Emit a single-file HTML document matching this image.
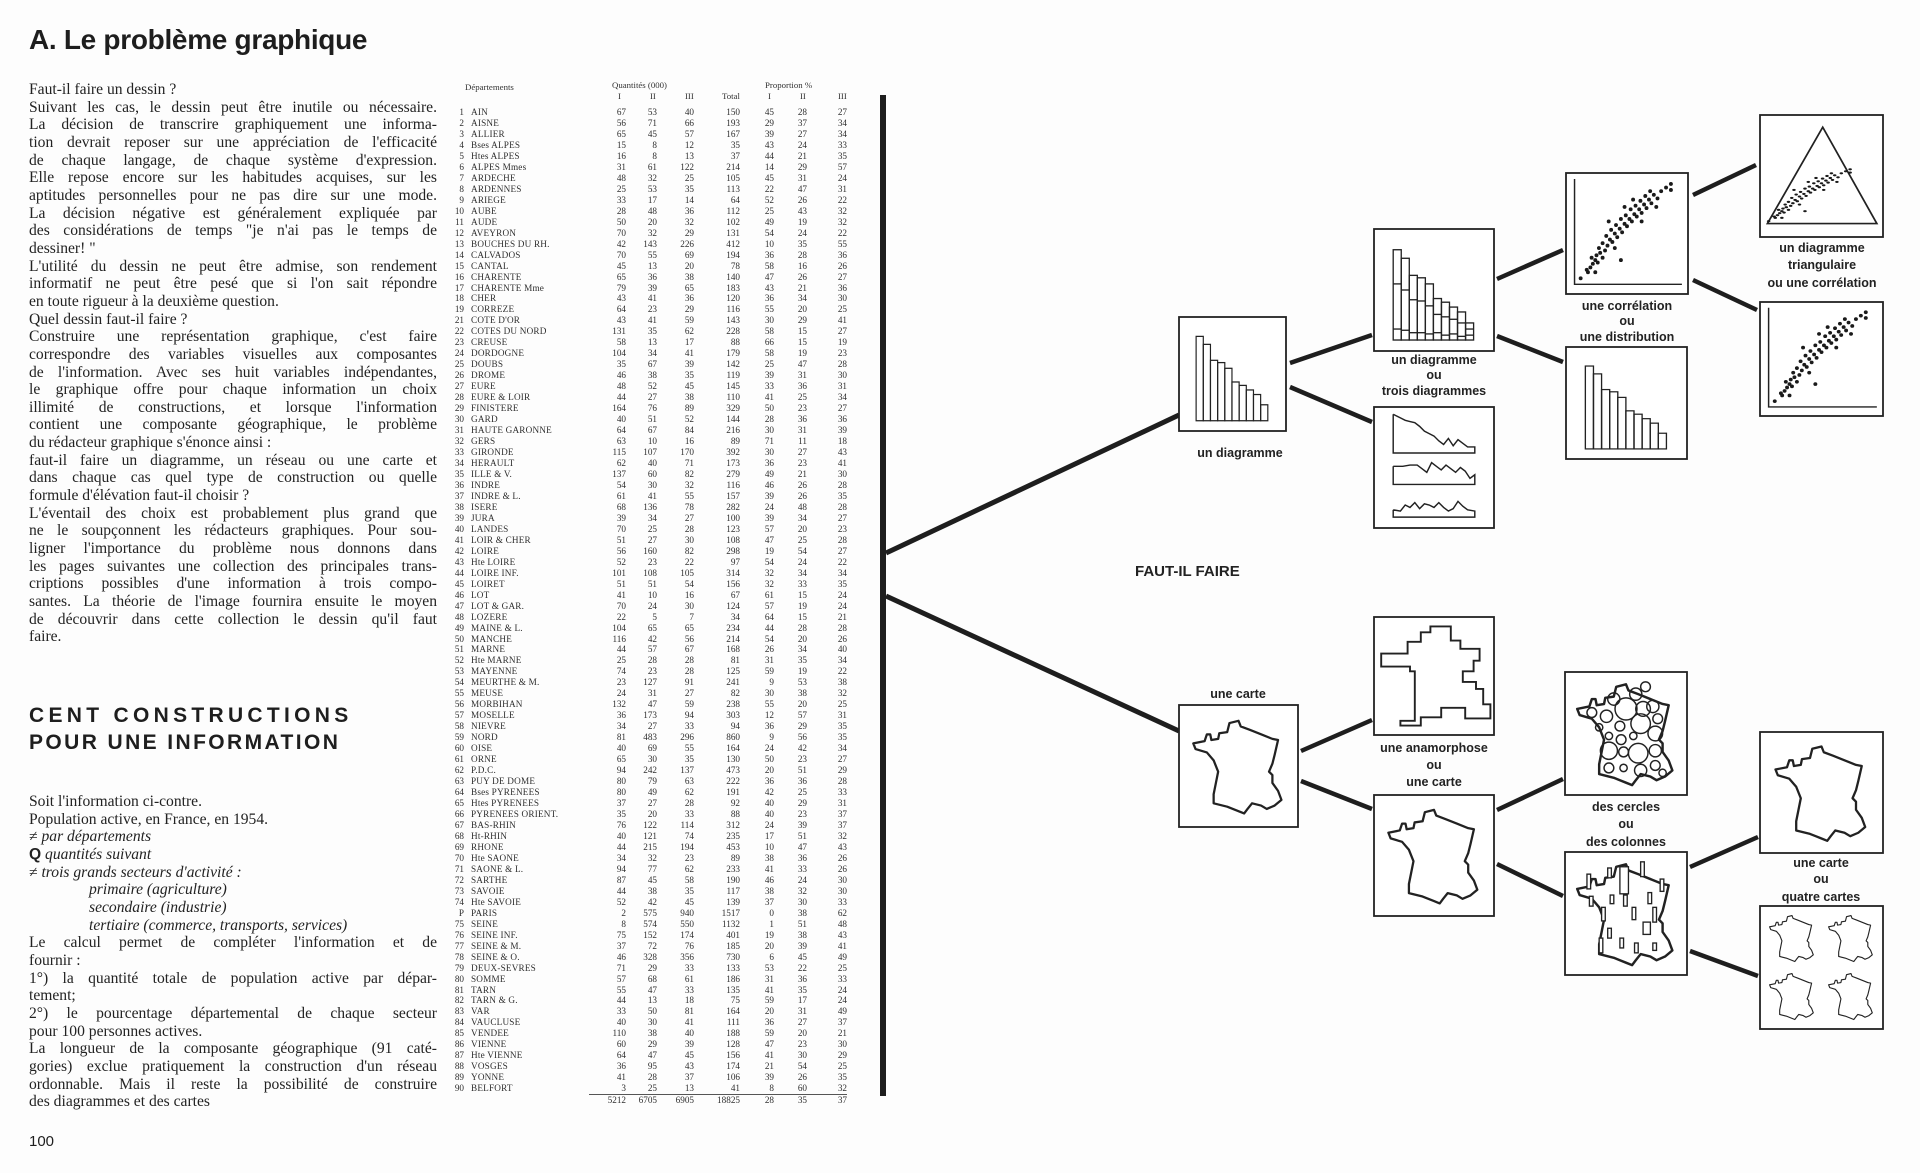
<!DOCTYPE html>
<html><head><meta charset="utf-8">
<style>
html,body{margin:0;padding:0;background:#fdfdfd;}
body{width:1920px;height:1173px;position:relative;overflow:hidden;color:#1e1e1e;}
.title{position:absolute;left:29px;top:24px;font:bold 28px "Liberation Sans",sans-serif;letter-spacing:-0.3px;}
.txt{position:absolute;left:29px;width:408px;font:15.6px "Liberation Serif",serif;line-height:17.66px;color:#222;}
.txt div{white-space:nowrap;text-align:justify;text-align-last:justify;height:17.66px;}
.txt div.e{text-align-last:left;}
.txt i{font-style:italic;}
.h2{position:absolute;left:29px;top:702px;font:bold 21px "Liberation Sans",sans-serif;line-height:27px;}
.h2 div{white-space:nowrap;}
.pg{position:absolute;left:29px;top:1133px;font:15px "Liberation Sans",sans-serif;}
table.t{position:absolute;left:446px;top:107px;border-collapse:collapse;table-layout:fixed;font:9.2px "Liberation Serif",serif;color:#2e2e2e;}
table.t td{padding:0;height:10.97px;line-height:10.97px;text-align:right;white-space:nowrap;overflow:hidden;}
table.t td.n{text-align:left;padding-left:7px;letter-spacing:0.2px;}
.hd{position:absolute;font:8.8px "Liberation Serif",serif;color:#333;white-space:nowrap;}
svg.d{position:absolute;left:0;top:0;}
.lb{font:bold 12.5px "Liberation Sans",sans-serif;fill:#222;text-anchor:middle;}
</style></head><body>
<div class="title">A. Le problème graphique</div>
<div class="txt" style="top:81px">
<div class="e">Faut-il faire un dessin ?</div>
<div>Suivant les cas, le dessin peut être inutile ou nécessaire.</div>
<div>La décision de transcrire graphiquement une informa-</div>
<div>tion devrait reposer sur une appréciation de l'efficacité</div>
<div>de chaque langage, de chaque système d'expression.</div>
<div>Elle repose encore sur les habitudes acquises, sur les</div>
<div>aptitudes personnelles pour ne pas dire sur une mode.</div>
<div>La décision négative est généralement expliquée par</div>
<div>des considérations de temps "je n'ai pas le temps de</div>
<div class="e">dessiner! "</div>
<div>L'utilité du dessin ne peut être admise, son rendement</div>
<div>informatif ne peut être pesé que si l'on sait répondre</div>
<div class="e">en toute rigueur à la deuxième question.</div>
<div class="e">Quel dessin faut-il faire ?</div>
<div>Construire une représentation graphique, c'est faire</div>
<div>correspondre des variables visuelles aux composantes</div>
<div>de l'information. Avec ses huit variables indépendantes,</div>
<div>le graphique offre pour chaque information un choix</div>
<div>illimité de constructions, et lorsque l'information</div>
<div>contient une composante géographique, le problème</div>
<div class="e">du rédacteur graphique s'énonce ainsi :</div>
<div>faut-il faire un diagramme, un réseau ou une carte et</div>
<div>dans chaque cas quel type de construction ou quelle</div>
<div class="e">formule d'élévation faut-il choisir ?</div>
<div>L'éventail des choix est probablement plus grand que</div>
<div>ne le soupçonnent les rédacteurs graphiques. Pour sou-</div>
<div>ligner l'importance du problème nous donnons dans</div>
<div>les pages suivantes une collection des principales trans-</div>
<div>criptions possibles d'une information à trois compo-</div>
<div>santes. La théorie de l'image fournira ensuite le moyen</div>
<div>de découvrir dans cette collection le dessin qu'il faut</div>
<div class="e">faire.</div>
</div>
<div class="h2"><div style="letter-spacing:4.3px">CENT CONSTRUCTIONS</div><div style="letter-spacing:2.4px">POUR UNE INFORMATION</div></div>
<div class="txt" style="top:793px">
<div class="e">Soit l'information ci-contre.</div>
<div class="e">Population active, en France, en 1954.</div>
<div class="e">≠ <i>par départements</i></div>
<div class="e"><b style="font-family:'Liberation Sans'">Q</b> <i>quantités suivant</i></div>
<div class="e">≠ <i>trois grands secteurs d'activité :</i></div>
<div class="e" style="padding-left:60px"><i>primaire (agriculture)</i></div>
<div class="e" style="padding-left:60px"><i>secondaire (industrie)</i></div>
<div class="e" style="padding-left:60px"><i>tertiaire (commerce, transports, services)</i></div>
<div>Le calcul permet de compléter l'information et de</div>
<div class="e">fournir :</div>
<div>1°) la quantité totale de population active par dépar-</div>
<div class="e">tement;</div>
<div>2°) le pourcentage départemental de chaque secteur</div>
<div class="e">pour 100 personnes actives.</div>
<div>La longueur de la composante géographique (91 caté-</div>
<div>gories) exclue pratiquement la construction d'un réseau</div>
<div>ordonnable. Mais il reste la possibilité de construire</div>
<div class="e">des diagrammes et des cartes</div>
</div>
<div class="pg">100</div>

<div class="hd" style="left:465px;top:82px">Départements</div>
<div class="hd" style="left:612px;top:80px">Quantités (000)</div>
<div class="hd" style="left:765px;top:80px">Proportion %</div>
<div class="hd" style="left:618px;top:91px">I</div>
<div class="hd" style="left:650px;top:91px">II</div>
<div class="hd" style="left:685px;top:91px">III</div>
<div class="hd" style="left:722px;top:91px">Total</div>
<div class="hd" style="left:768px;top:91px">I</div>
<div class="hd" style="left:800px;top:91px">II</div>
<div class="hd" style="left:838px;top:91px">III</div>

<table class="t">
<colgroup><col style="width:18px"><col style="width:125px"><col style="width:37px"><col style="width:31px"><col style="width:37px"><col style="width:46px"><col style="width:34px"><col style="width:33px"><col style="width:40px"></colgroup>
<tr><td>1</td><td class="n">AIN</td><td>67</td><td>53</td><td>40</td><td>150</td><td>45</td><td>28</td><td>27</td></tr>
<tr><td>2</td><td class="n">AISNE</td><td>56</td><td>71</td><td>66</td><td>193</td><td>29</td><td>37</td><td>34</td></tr>
<tr><td>3</td><td class="n">ALLIER</td><td>65</td><td>45</td><td>57</td><td>167</td><td>39</td><td>27</td><td>34</td></tr>
<tr><td>4</td><td class="n">Bses ALPES</td><td>15</td><td>8</td><td>12</td><td>35</td><td>43</td><td>24</td><td>33</td></tr>
<tr><td>5</td><td class="n">Htes ALPES</td><td>16</td><td>8</td><td>13</td><td>37</td><td>44</td><td>21</td><td>35</td></tr>
<tr><td>6</td><td class="n">ALPES Mmes</td><td>31</td><td>61</td><td>122</td><td>214</td><td>14</td><td>29</td><td>57</td></tr>
<tr><td>7</td><td class="n">ARDECHE</td><td>48</td><td>32</td><td>25</td><td>105</td><td>45</td><td>31</td><td>24</td></tr>
<tr><td>8</td><td class="n">ARDENNES</td><td>25</td><td>53</td><td>35</td><td>113</td><td>22</td><td>47</td><td>31</td></tr>
<tr><td>9</td><td class="n">ARIEGE</td><td>33</td><td>17</td><td>14</td><td>64</td><td>52</td><td>26</td><td>22</td></tr>
<tr><td>10</td><td class="n">AUBE</td><td>28</td><td>48</td><td>36</td><td>112</td><td>25</td><td>43</td><td>32</td></tr>
<tr><td>11</td><td class="n">AUDE</td><td>50</td><td>20</td><td>32</td><td>102</td><td>49</td><td>19</td><td>32</td></tr>
<tr><td>12</td><td class="n">AVEYRON</td><td>70</td><td>32</td><td>29</td><td>131</td><td>54</td><td>24</td><td>22</td></tr>
<tr><td>13</td><td class="n">BOUCHES DU RH.</td><td>42</td><td>143</td><td>226</td><td>412</td><td>10</td><td>35</td><td>55</td></tr>
<tr><td>14</td><td class="n">CALVADOS</td><td>70</td><td>55</td><td>69</td><td>194</td><td>36</td><td>28</td><td>36</td></tr>
<tr><td>15</td><td class="n">CANTAL</td><td>45</td><td>13</td><td>20</td><td>78</td><td>58</td><td>16</td><td>26</td></tr>
<tr><td>16</td><td class="n">CHARENTE</td><td>65</td><td>36</td><td>38</td><td>140</td><td>47</td><td>26</td><td>27</td></tr>
<tr><td>17</td><td class="n">CHARENTE Mme</td><td>79</td><td>39</td><td>65</td><td>183</td><td>43</td><td>21</td><td>36</td></tr>
<tr><td>18</td><td class="n">CHER</td><td>43</td><td>41</td><td>36</td><td>120</td><td>36</td><td>34</td><td>30</td></tr>
<tr><td>19</td><td class="n">CORREZE</td><td>64</td><td>23</td><td>29</td><td>116</td><td>55</td><td>20</td><td>25</td></tr>
<tr><td>21</td><td class="n">COTE D'OR</td><td>43</td><td>41</td><td>59</td><td>143</td><td>30</td><td>29</td><td>41</td></tr>
<tr><td>22</td><td class="n">COTES DU NORD</td><td>131</td><td>35</td><td>62</td><td>228</td><td>58</td><td>15</td><td>27</td></tr>
<tr><td>23</td><td class="n">CREUSE</td><td>58</td><td>13</td><td>17</td><td>88</td><td>66</td><td>15</td><td>19</td></tr>
<tr><td>24</td><td class="n">DORDOGNE</td><td>104</td><td>34</td><td>41</td><td>179</td><td>58</td><td>19</td><td>23</td></tr>
<tr><td>25</td><td class="n">DOUBS</td><td>35</td><td>67</td><td>39</td><td>142</td><td>25</td><td>47</td><td>28</td></tr>
<tr><td>26</td><td class="n">DROME</td><td>46</td><td>38</td><td>35</td><td>119</td><td>39</td><td>31</td><td>30</td></tr>
<tr><td>27</td><td class="n">EURE</td><td>48</td><td>52</td><td>45</td><td>145</td><td>33</td><td>36</td><td>31</td></tr>
<tr><td>28</td><td class="n">EURE &amp; LOIR</td><td>44</td><td>27</td><td>38</td><td>110</td><td>41</td><td>25</td><td>34</td></tr>
<tr><td>29</td><td class="n">FINISTERE</td><td>164</td><td>76</td><td>89</td><td>329</td><td>50</td><td>23</td><td>27</td></tr>
<tr><td>30</td><td class="n">GARD</td><td>40</td><td>51</td><td>52</td><td>144</td><td>28</td><td>36</td><td>36</td></tr>
<tr><td>31</td><td class="n">HAUTE GARONNE</td><td>64</td><td>67</td><td>84</td><td>216</td><td>30</td><td>31</td><td>39</td></tr>
<tr><td>32</td><td class="n">GERS</td><td>63</td><td>10</td><td>16</td><td>89</td><td>71</td><td>11</td><td>18</td></tr>
<tr><td>33</td><td class="n">GIRONDE</td><td>115</td><td>107</td><td>170</td><td>392</td><td>30</td><td>27</td><td>43</td></tr>
<tr><td>34</td><td class="n">HERAULT</td><td>62</td><td>40</td><td>71</td><td>173</td><td>36</td><td>23</td><td>41</td></tr>
<tr><td>35</td><td class="n">ILLE &amp; V.</td><td>137</td><td>60</td><td>82</td><td>279</td><td>49</td><td>21</td><td>30</td></tr>
<tr><td>36</td><td class="n">INDRE</td><td>54</td><td>30</td><td>32</td><td>116</td><td>46</td><td>26</td><td>28</td></tr>
<tr><td>37</td><td class="n">INDRE &amp; L.</td><td>61</td><td>41</td><td>55</td><td>157</td><td>39</td><td>26</td><td>35</td></tr>
<tr><td>38</td><td class="n">ISERE</td><td>68</td><td>136</td><td>78</td><td>282</td><td>24</td><td>48</td><td>28</td></tr>
<tr><td>39</td><td class="n">JURA</td><td>39</td><td>34</td><td>27</td><td>100</td><td>39</td><td>34</td><td>27</td></tr>
<tr><td>40</td><td class="n">LANDES</td><td>70</td><td>25</td><td>28</td><td>123</td><td>57</td><td>20</td><td>23</td></tr>
<tr><td>41</td><td class="n">LOIR &amp; CHER</td><td>51</td><td>27</td><td>30</td><td>108</td><td>47</td><td>25</td><td>28</td></tr>
<tr><td>42</td><td class="n">LOIRE</td><td>56</td><td>160</td><td>82</td><td>298</td><td>19</td><td>54</td><td>27</td></tr>
<tr><td>43</td><td class="n">Hte LOIRE</td><td>52</td><td>23</td><td>22</td><td>97</td><td>54</td><td>24</td><td>22</td></tr>
<tr><td>44</td><td class="n">LOIRE INF.</td><td>101</td><td>108</td><td>105</td><td>314</td><td>32</td><td>34</td><td>34</td></tr>
<tr><td>45</td><td class="n">LOIRET</td><td>51</td><td>51</td><td>54</td><td>156</td><td>32</td><td>33</td><td>35</td></tr>
<tr><td>46</td><td class="n">LOT</td><td>41</td><td>10</td><td>16</td><td>67</td><td>61</td><td>15</td><td>24</td></tr>
<tr><td>47</td><td class="n">LOT &amp; GAR.</td><td>70</td><td>24</td><td>30</td><td>124</td><td>57</td><td>19</td><td>24</td></tr>
<tr><td>48</td><td class="n">LOZERE</td><td>22</td><td>5</td><td>7</td><td>34</td><td>64</td><td>15</td><td>21</td></tr>
<tr><td>49</td><td class="n">MAINE &amp; L.</td><td>104</td><td>65</td><td>65</td><td>234</td><td>44</td><td>28</td><td>28</td></tr>
<tr><td>50</td><td class="n">MANCHE</td><td>116</td><td>42</td><td>56</td><td>214</td><td>54</td><td>20</td><td>26</td></tr>
<tr><td>51</td><td class="n">MARNE</td><td>44</td><td>57</td><td>67</td><td>168</td><td>26</td><td>34</td><td>40</td></tr>
<tr><td>52</td><td class="n">Hte MARNE</td><td>25</td><td>28</td><td>28</td><td>81</td><td>31</td><td>35</td><td>34</td></tr>
<tr><td>53</td><td class="n">MAYENNE</td><td>74</td><td>23</td><td>28</td><td>125</td><td>59</td><td>19</td><td>22</td></tr>
<tr><td>54</td><td class="n">MEURTHE &amp; M.</td><td>23</td><td>127</td><td>91</td><td>241</td><td>9</td><td>53</td><td>38</td></tr>
<tr><td>55</td><td class="n">MEUSE</td><td>24</td><td>31</td><td>27</td><td>82</td><td>30</td><td>38</td><td>32</td></tr>
<tr><td>56</td><td class="n">MORBIHAN</td><td>132</td><td>47</td><td>59</td><td>238</td><td>55</td><td>20</td><td>25</td></tr>
<tr><td>57</td><td class="n">MOSELLE</td><td>36</td><td>173</td><td>94</td><td>303</td><td>12</td><td>57</td><td>31</td></tr>
<tr><td>58</td><td class="n">NIEVRE</td><td>34</td><td>27</td><td>33</td><td>94</td><td>36</td><td>29</td><td>35</td></tr>
<tr><td>59</td><td class="n">NORD</td><td>81</td><td>483</td><td>296</td><td>860</td><td>9</td><td>56</td><td>35</td></tr>
<tr><td>60</td><td class="n">OISE</td><td>40</td><td>69</td><td>55</td><td>164</td><td>24</td><td>42</td><td>34</td></tr>
<tr><td>61</td><td class="n">ORNE</td><td>65</td><td>30</td><td>35</td><td>130</td><td>50</td><td>23</td><td>27</td></tr>
<tr><td>62</td><td class="n">P.D.C.</td><td>94</td><td>242</td><td>137</td><td>473</td><td>20</td><td>51</td><td>29</td></tr>
<tr><td>63</td><td class="n">PUY DE DOME</td><td>80</td><td>79</td><td>63</td><td>222</td><td>36</td><td>36</td><td>28</td></tr>
<tr><td>64</td><td class="n">Bses PYRENEES</td><td>80</td><td>49</td><td>62</td><td>191</td><td>42</td><td>25</td><td>33</td></tr>
<tr><td>65</td><td class="n">Htes PYRENEES</td><td>37</td><td>27</td><td>28</td><td>92</td><td>40</td><td>29</td><td>31</td></tr>
<tr><td>66</td><td class="n">PYRENEES ORIENT.</td><td>35</td><td>20</td><td>33</td><td>88</td><td>40</td><td>23</td><td>37</td></tr>
<tr><td>67</td><td class="n">BAS-RHIN</td><td>76</td><td>122</td><td>114</td><td>312</td><td>24</td><td>39</td><td>37</td></tr>
<tr><td>68</td><td class="n">Ht-RHIN</td><td>40</td><td>121</td><td>74</td><td>235</td><td>17</td><td>51</td><td>32</td></tr>
<tr><td>69</td><td class="n">RHONE</td><td>44</td><td>215</td><td>194</td><td>453</td><td>10</td><td>47</td><td>43</td></tr>
<tr><td>70</td><td class="n">Hte SAONE</td><td>34</td><td>32</td><td>23</td><td>89</td><td>38</td><td>36</td><td>26</td></tr>
<tr><td>71</td><td class="n">SAONE &amp; L.</td><td>94</td><td>77</td><td>62</td><td>233</td><td>41</td><td>33</td><td>26</td></tr>
<tr><td>72</td><td class="n">SARTHE</td><td>87</td><td>45</td><td>58</td><td>190</td><td>46</td><td>24</td><td>30</td></tr>
<tr><td>73</td><td class="n">SAVOIE</td><td>44</td><td>38</td><td>35</td><td>117</td><td>38</td><td>32</td><td>30</td></tr>
<tr><td>74</td><td class="n">Hte SAVOIE</td><td>52</td><td>42</td><td>45</td><td>139</td><td>37</td><td>30</td><td>33</td></tr>
<tr><td>P</td><td class="n">PARIS</td><td>2</td><td>575</td><td>940</td><td>1517</td><td>0</td><td>38</td><td>62</td></tr>
<tr><td>75</td><td class="n">SEINE</td><td>8</td><td>574</td><td>550</td><td>1132</td><td>1</td><td>51</td><td>48</td></tr>
<tr><td>76</td><td class="n">SEINE INF.</td><td>75</td><td>152</td><td>174</td><td>401</td><td>19</td><td>38</td><td>43</td></tr>
<tr><td>77</td><td class="n">SEINE &amp; M.</td><td>37</td><td>72</td><td>76</td><td>185</td><td>20</td><td>39</td><td>41</td></tr>
<tr><td>78</td><td class="n">SEINE &amp; O.</td><td>46</td><td>328</td><td>356</td><td>730</td><td>6</td><td>45</td><td>49</td></tr>
<tr><td>79</td><td class="n">DEUX-SEVRES</td><td>71</td><td>29</td><td>33</td><td>133</td><td>53</td><td>22</td><td>25</td></tr>
<tr><td>80</td><td class="n">SOMME</td><td>57</td><td>68</td><td>61</td><td>186</td><td>31</td><td>36</td><td>33</td></tr>
<tr><td>81</td><td class="n">TARN</td><td>55</td><td>47</td><td>33</td><td>135</td><td>41</td><td>35</td><td>24</td></tr>
<tr><td>82</td><td class="n">TARN &amp; G.</td><td>44</td><td>13</td><td>18</td><td>75</td><td>59</td><td>17</td><td>24</td></tr>
<tr><td>83</td><td class="n">VAR</td><td>33</td><td>50</td><td>81</td><td>164</td><td>20</td><td>31</td><td>49</td></tr>
<tr><td>84</td><td class="n">VAUCLUSE</td><td>40</td><td>30</td><td>41</td><td>111</td><td>36</td><td>27</td><td>37</td></tr>
<tr><td>85</td><td class="n">VENDEE</td><td>110</td><td>38</td><td>40</td><td>188</td><td>59</td><td>20</td><td>21</td></tr>
<tr><td>86</td><td class="n">VIENNE</td><td>60</td><td>29</td><td>39</td><td>128</td><td>47</td><td>23</td><td>30</td></tr>
<tr><td>87</td><td class="n">Hte VIENNE</td><td>64</td><td>47</td><td>45</td><td>156</td><td>41</td><td>30</td><td>29</td></tr>
<tr><td>88</td><td class="n">VOSGES</td><td>36</td><td>95</td><td>43</td><td>174</td><td>21</td><td>54</td><td>25</td></tr>
<tr><td>89</td><td class="n">YONNE</td><td>41</td><td>28</td><td>37</td><td>106</td><td>39</td><td>26</td><td>35</td></tr>
<tr><td>90</td><td class="n">BELFORT</td><td>3</td><td>25</td><td>13</td><td>41</td><td>8</td><td>60</td><td>32</td></tr>
<tr><td></td><td class="n"></td><td style="border-top:1px solid #555">5212</td><td style="border-top:1px solid #555">6705</td><td style="border-top:1px solid #555">6905</td><td style="border-top:1px solid #555">18825</td><td style="border-top:1px solid #555">28</td><td style="border-top:1px solid #555">35</td><td style="border-top:1px solid #555">37</td></tr>
</table>

<svg class="d" width="1920" height="1173" viewBox="0 0 1920 1173" xmlns="http://www.w3.org/2000/svg">
<defs>
<symbol id="fr" viewBox="0 0 100 100">
<polygon fill="none" stroke="#222" stroke-width="2" stroke-linejoin="round" points="10,30 20,28 22,22 25,22 26,27 32,26 33,21 40,20 42,12 50,10 52,15 60,18 70,22 80,26 85,27 82,40 80,48 77,55 80,58 80,65 85,72 88,80 82,85 75,88 70,85 62,83 58,88 55,92 50,90 45,88 40,86 32,84 28,83 28,75 30,65 32,55 28,45 22,38 12,35"/>
</symbol>
<g id="dots" fill="#1a1a1a">
<circle cx="12" cy="87" r="1.6"/><circle cx="18" cy="82" r="1.6"/><circle cx="20" cy="78" r="1.6"/><circle cx="17" cy="80" r="1.6"/><circle cx="22" cy="75" r="1.6"/><circle cx="24" cy="72" r="1.6"/><circle cx="21" cy="70" r="1.6"/><circle cx="26" cy="74" r="1.6"/><circle cx="25" cy="68" r="1.6"/><circle cx="28" cy="66" r="1.6"/><circle cx="30" cy="70" r="1.6"/><circle cx="27" cy="62" r="1.6"/><circle cx="32" cy="64" r="1.6"/><circle cx="30" cy="58" r="1.6"/><circle cx="34" cy="60" r="1.6"/><circle cx="36" cy="55" r="1.6"/><circle cx="33" cy="52" r="1.6"/><circle cx="38" cy="57" r="1.6"/><circle cx="40" cy="50" r="1.6"/><circle cx="37" cy="47" r="1.6"/><circle cx="42" cy="53" r="1.6"/><circle cx="44" cy="46" r="1.6"/><circle cx="41" cy="43" r="1.6"/><circle cx="46" cy="49" r="1.6"/><circle cx="48" cy="42" r="1.6"/><circle cx="45" cy="38" r="1.6"/><circle cx="50" cy="44" r="1.6"/><circle cx="52" cy="38" r="1.6"/><circle cx="49" cy="35" r="1.6"/><circle cx="54" cy="40" r="1.6"/><circle cx="56" cy="34" r="1.6"/><circle cx="53" cy="30" r="1.6"/><circle cx="58" cy="36" r="1.6"/><circle cx="60" cy="30" r="1.6"/><circle cx="57" cy="27" r="1.6"/><circle cx="62" cy="33" r="1.6"/><circle cx="64" cy="26" r="1.6"/><circle cx="61" cy="23" r="1.6"/><circle cx="66" cy="29" r="1.6"/><circle cx="68" cy="22" r="1.6"/><circle cx="65" cy="19" r="1.6"/><circle cx="70" cy="25" r="1.6"/><circle cx="72" cy="18" r="1.6"/><circle cx="69" cy="15" r="1.6"/><circle cx="75" cy="21" r="1.6"/><circle cx="78" cy="15" r="1.6"/><circle cx="82" cy="12" r="1.6"/><circle cx="86" cy="9" r="1.6"/><circle cx="86" cy="14" r="1.6"/><circle cx="45" cy="72" r="1.6"/><circle cx="24" cy="82" r="1.6"/><circle cx="55" cy="22" r="1.6"/><circle cx="40" cy="62" r="1.6"/><circle cx="62" cy="40" r="1.6"/><circle cx="74" cy="28" r="1.6"/><circle cx="35" cy="40" r="1.6"/><circle cx="48" cy="28" r="1.6"/>
</g>
<symbol id="scat" viewBox="0 0 100 100" preserveAspectRatio="none">
<polyline points="7,5 7,92 95,92" fill="none" stroke="#222" stroke-width="1.2"/>
<use href="#dots"/>
</symbol>
<symbol id="bars" viewBox="0 0 100 100" preserveAspectRatio="none">
<g fill="none" stroke="#222" stroke-width="1.1">
<rect x="16" y="17" width="6.7" height="74"/><rect x="22.7" y="24" width="6.7" height="67"/><rect x="29.4" y="38" width="6.7" height="53"/><rect x="36.1" y="40" width="6.7" height="51"/><rect x="42.8" y="45" width="6.7" height="46"/><rect x="49.5" y="57" width="6.7" height="34"/><rect x="56.2" y="60" width="6.7" height="31"/><rect x="62.9" y="64" width="6.7" height="27"/><rect x="69.6" y="68" width="6.7" height="23"/><rect x="76.3" y="77" width="6.7" height="14"/>
</g>
</symbol>
</defs>

<g stroke="#1e1e1e" stroke-width="5">
<line x1="886" y1="553" x2="1179" y2="415"/>
<line x1="886" y1="596" x2="1179" y2="731"/>
</g>
<g stroke="#1e1e1e" stroke-width="4.5">
<line x1="1290" y1="363" x2="1372" y2="335"/>
<line x1="1290" y1="387" x2="1372" y2="422"/>
<line x1="1497" y1="279" x2="1563" y2="250"/>
<line x1="1497" y1="336" x2="1563" y2="362"/>
<line x1="1693" y1="195" x2="1756" y2="165"/>
<line x1="1693" y1="280" x2="1757" y2="310"/>
<line x1="1301" y1="751" x2="1372" y2="720"/>
<line x1="1301" y1="781" x2="1372" y2="809"/>
<line x1="1497" y1="810" x2="1563" y2="779"/>
<line x1="1497" y1="864" x2="1563" y2="896"/>
<line x1="1690" y1="867" x2="1758" y2="837"/>
<line x1="1690" y1="951" x2="1758" y2="976"/>
</g>
<rect x="880" y="95" width="6" height="1001" fill="#1e1e1e"/>

<g fill="#fff" stroke="#222" stroke-width="1.8">
<rect x="1179" y="317" width="107" height="114"/>
<rect x="1374" y="229" width="120" height="122"/>
<rect x="1374" y="407" width="120" height="121"/>
<rect x="1566" y="173" width="122" height="121"/>
<rect x="1566" y="347" width="121" height="112"/>
<rect x="1760" y="115" width="123" height="122"/>
<rect x="1760" y="302" width="123" height="114"/>
<rect x="1179" y="705" width="119" height="122"/>
<rect x="1374" y="617" width="120" height="118"/>
<rect x="1374" y="795" width="120" height="121"/>
<rect x="1565" y="672" width="122" height="123"/>
<rect x="1565" y="852" width="122" height="123"/>
<rect x="1760" y="732" width="123" height="121"/>
<rect x="1760" y="906" width="123" height="123"/>
</g>

<use href="#bars" x="1179" y="317" width="107" height="114"/>
<svg x="1374" y="229" width="120" height="122" viewBox="0 0 100 100" preserveAspectRatio="none">
<use href="#bars" x="0" y="0" width="100" height="100"/>
<g stroke="#222" stroke-width="1.1">
<line x1="16" y1="82" x2="22.7" y2="82"/><line x1="16" y1="45" x2="22.7" y2="45"/>
<line x1="22.7" y1="83" x2="29.4" y2="83"/><line x1="22.7" y1="50" x2="29.4" y2="50"/>
<line x1="29.4" y1="85" x2="36.1" y2="85"/><line x1="29.4" y1="58" x2="36.1" y2="58"/>
<line x1="36.1" y1="85" x2="42.8" y2="85"/><line x1="36.1" y1="59" x2="42.8" y2="59"/>
<line x1="42.8" y1="86" x2="49.5" y2="86"/><line x1="42.8" y1="63" x2="49.5" y2="63"/>
<line x1="49.5" y1="85" x2="56.2" y2="85"/><line x1="49.5" y1="70" x2="56.2" y2="70"/>
<line x1="56.2" y1="87" x2="62.9" y2="87"/><line x1="56.2" y1="72" x2="62.9" y2="72"/>
<line x1="62.9" y1="86" x2="69.6" y2="86"/><line x1="62.9" y1="74" x2="69.6" y2="74"/>
<line x1="69.6" y1="88" x2="76.3" y2="88"/><line x1="69.6" y1="77" x2="76.3" y2="77"/>
<line x1="76.3" y1="87" x2="83" y2="87"/><line x1="76.3" y1="82" x2="83" y2="82"/>
</g></svg>
<svg x="1374" y="407" width="120" height="121" viewBox="0 0 100 100" preserveAspectRatio="none">
<g fill="none" stroke="#222" stroke-width="1.2">
<polyline points="16,6 16,38 84,38 84,33 78,33 74,30 70,27 66,32 62,26 58,31 54,28 50,24 46,22 42,20 38,16 34,13 30,12 26,11 22,9 18,7 16,6"/>
<polyline points="16,49 16,64 84,64 84,56 80,59 76,53 72,50 68,54 64,51 60,48 56,52 52,49 48,46 44,54 40,51 36,48 30,48 24,49 16,49"/>
<polyline points="16,85 16,91 84,91 84,86 78,85 74,82 70,78 66,84 62,86 58,83 54,79 50,83 46,81 42,80 38,84 34,79 30,83 26,81 22,86 16,85"/>
</g></svg>
<use href="#scat" x="1566" y="173" width="122" height="121"/>
<use href="#bars" x="1566" y="347" width="121" height="112"/>
<svg x="1760" y="115" width="123" height="122" viewBox="0 0 100 100" preserveAspectRatio="none">
<polygon points="6,89 51,10 95,89" fill="none" stroke="#222" stroke-width="1.4"/>
<g transform="translate(-3.7,39.6) scale(0.895,0.545)"><use href="#dots"/></g>
</svg>
<use href="#scat" x="1760" y="302" width="123" height="114"/>

<use href="#fr" x="1182" y="708" width="113" height="116"/>
<svg x="1374" y="617" width="120" height="118" viewBox="0 0 100 100" preserveAspectRatio="none">
<polygon fill="none" stroke="#222" stroke-width="1.6" points="6,31 28,31 28,21 39,21 39,13 47,13 47,8 64,8 64,20 72,20 72,27 88,27 88,37 83,37 83,46 74,46 74,55 85,55 85,61 91,61 91,74 97,74 97,86 76,86 76,77 56,77 56,85 39,85 39,92 22,92 22,88 34,88 34,46 30,46 30,42 6,42"/>
</svg>
<use href="#fr" x="1377" y="798" width="114" height="115"/>
<svg x="1565" y="672" width="122" height="123" viewBox="0 0 100 100" preserveAspectRatio="none">
<use href="#fr" x="0" y="0" width="100" height="100"/>
<g fill="none" stroke="#222" stroke-width="1.2">
<circle cx="40" cy="22" r="5"/><circle cx="50" cy="30" r="9"/><circle cx="58" cy="18" r="5"/><circle cx="64" cy="30" r="6"/><circle cx="72" cy="28" r="5"/><circle cx="76" cy="38" r="4"/><circle cx="22" cy="33" r="4"/><circle cx="34" cy="36" r="5"/><circle cx="62" cy="42" r="8"/><circle cx="45" cy="44" r="4"/><circle cx="74" cy="50" r="6"/><circle cx="36" cy="52" r="3"/><circle cx="46" cy="55" r="4"/><circle cx="56" cy="52" r="3"/><circle cx="36" cy="64" r="7"/><circle cx="48" cy="65" r="4"/><circle cx="60" cy="66" r="8"/><circle cx="74" cy="64" r="5"/><circle cx="36" cy="78" r="4"/><circle cx="48" cy="78" r="3"/><circle cx="62" cy="80" r="5"/><circle cx="74" cy="76" r="4"/><circle cx="28" cy="45" r="3"/><circle cx="80" cy="82" r="3"/><circle cx="66" cy="12" r="4"/>
</g></svg>
<svg x="1565" y="852" width="122" height="123" viewBox="0 0 100 100" preserveAspectRatio="none">
<use href="#fr" x="0" y="0" width="100" height="100"/>
<g fill="#fff" stroke="#222" stroke-width="1.1">
<rect x="18" y="18" width="3" height="12"/><rect x="35" y="13" width="3" height="8"/><rect x="45" y="12" width="7" height="22"/><rect x="62" y="8" width="3" height="12"/><rect x="20" y="36" width="3" height="8"/><rect x="37" y="35" width="3" height="7"/><rect x="48" y="35" width="3" height="9"/><rect x="68" y="33" width="3" height="9"/><rect x="78" y="22" width="3" height="10"/><rect x="30" y="45" width="3" height="11"/><rect x="55" y="45" width="3" height="10"/><rect x="72" y="45" width="3" height="12"/><rect x="35" y="62" width="3" height="8"/><rect x="64" y="57" width="6" height="10"/><rect x="57" y="74" width="3" height="8"/><rect x="28" y="70" width="3" height="12"/><rect x="72" y="74" width="3" height="6"/><rect x="45" y="70" width="3" height="8"/>
</g></svg>
<use href="#fr" x="1763" y="735" width="117" height="115"/>
<use href="#fr" x="1763" y="910" width="58" height="56"/>
<use href="#fr" x="1822" y="910" width="58" height="56"/>
<use href="#fr" x="1763" y="968" width="58" height="56"/>
<use href="#fr" x="1822" y="968" width="58" height="56"/>

<text class="lb" x="1240" y="457">un diagramme</text>
<text class="lb" x="1434" y="364">un diagramme</text>
<text class="lb" x="1434" y="379">ou</text>
<text class="lb" x="1434" y="395">trois diagrammes</text>
<text class="lb" x="1627" y="310">une corrélation</text>
<text class="lb" x="1627" y="325">ou</text>
<text class="lb" x="1627" y="341">une distribution</text>
<text class="lb" x="1822" y="252">un diagramme</text>
<text class="lb" x="1822" y="269">triangulaire</text>
<text class="lb" x="1822" y="287">ou une corrélation</text>
<text class="lb" x="1238" y="698">une carte</text>
<text class="lb" x="1434" y="752">une anamorphose</text>
<text class="lb" x="1434" y="769">ou</text>
<text class="lb" x="1434" y="786">une carte</text>
<text class="lb" x="1626" y="811">des cercles</text>
<text class="lb" x="1626" y="828">ou</text>
<text class="lb" x="1626" y="846">des colonnes</text>
<text class="lb" x="1821" y="867">une carte</text>
<text class="lb" x="1821" y="883">ou</text>
<text class="lb" x="1821" y="901">quatre cartes</text>
<text x="1135" y="576" style="font:bold 15px 'Liberation Sans',sans-serif;fill:#222">FAUT-IL FAIRE</text>
</svg>
</body></html>
